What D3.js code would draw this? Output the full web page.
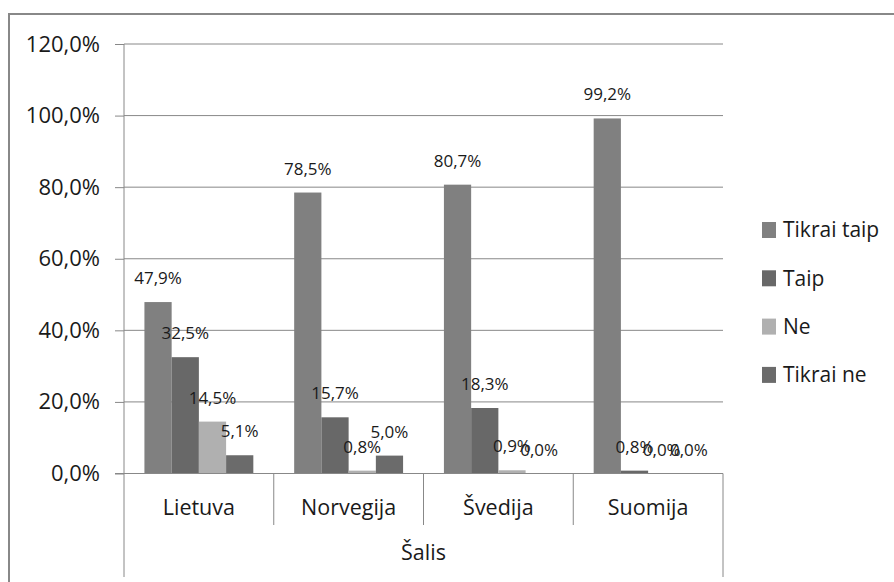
<!DOCTYPE html>
<html>
<head>
<meta charset="utf-8">
<script src="https://cdn.jsdelivr.net/npm/d3@7"></script>
<style>
  body { margin: 0; background: #fff; }
  svg text { font-family: "Open Sans", sans-serif; fill: #1a1a1a; }
</style>
</head>
<body>
<svg id="chart" width="894" height="582"></svg>
<script>
// country groups + answer series
var categories = ["Lietuva", "Norvegija", "Švedija", "Suomija"];
var seriesNames = ["Tikrai taip", "Taip", "Ne", "Tikrai ne"];
var tikraiTaip = [47.9, 78.5, 80.7, 99.2];
var taip       = [32.5, 15.7, 18.3, 0.8];
var ne         = [14.5, 0.8, 0.9, 0.0];
var tikraiNe   = [5.1, 5.0, 0.0, 0.0];
var yTicks = [0, 20, 40, 60, 80, 100, 120];
var axisTitle = "Šalis";

var seriesValues = [tikraiTaip, taip, ne, tikraiNe];
var colors = ["#808080", "#686868", "#b0b0b0", "#6b6b6b"];

var svg = d3.select("#chart");
var lineCol = "#888";

// plot box (note: "top" is reserved on window, so use other names)
var plotL = 124, plotR = 723, plotT = 44, plotB = 473.5, axisBottom = 577;

var y = d3.scaleLinear().domain([0, 120]).range([plotB, plotT]);
var x0 = d3.scaleBand().domain(categories).range([plotL, plotR]).paddingInner(0).paddingOuter(0);
var x1 = d3.scaleBand().domain(seriesNames).range([0, x0.bandwidth()]).paddingInner(0).paddingOuter(0.75);

function pct(v) {
  return d3.format(".1f")(v).replace(".", ",") + "%";
}

// outer chart border (top + left only visible)
svg.append("path")
  .attr("d", "M9,582 L9,14 L894,14")
  .attr("fill", "none")
  .attr("stroke", lineCol)
  .attr("stroke-width", 2);

// gridlines
svg.append("g").selectAll("line")
  .data(yTicks)
  .enter().append("line")
  .attr("x1", plotL).attr("x2", plotR)
  .attr("y1", d => y(d)).attr("y2", d => y(d))
  .attr("stroke", lineCol)
  .attr("stroke-width", 1);

// y axis
var yAxis = d3.axisLeft(y)
  .tickValues(yTicks)
  .tickSize(9)
  .tickSizeOuter(0)
  .tickPadding(15)
  .tickFormat(pct);
var gy = svg.append("g").attr("transform", "translate(" + plotL + ",0)").call(yAxis);
gy.select(".domain").remove();
gy.selectAll(".tick line").attr("stroke", lineCol);
gy.selectAll(".tick text").style("font-size", "22px").style("font-family", "'Open Sans', sans-serif").attr("fill", "#1a1a1a");

// axis line running through both category levels
svg.append("line")
  .attr("x1", plotL).attr("x2", plotL)
  .attr("y1", plotT).attr("y2", axisBottom)
  .attr("stroke", lineCol);
svg.append("line")
  .attr("x1", plotR).attr("x2", plotR)
  .attr("y1", plotB).attr("y2", axisBottom)
  .attr("stroke", lineCol);

// category separators
svg.append("g").selectAll("line")
  .data(categories.slice(1))
  .enter().append("line")
  .attr("x1", d => x0(d)).attr("x2", d => x0(d))
  .attr("y1", plotB).attr("y2", 525)
  .attr("stroke", lineCol);

// bars
var groups = svg.append("g").selectAll("g")
  .data(categories)
  .enter().append("g")
  .attr("transform", d => "translate(" + x0(d) + ",0)");

groups.selectAll("rect")
  .data((c, ci) => seriesNames.map((s, si) => ({s: s, si: si, v: seriesValues[si][ci]})))
  .enter().append("rect")
  .attr("x", d => x1(d.s))
  .attr("width", x1.bandwidth())
  .attr("y", d => y(d.v))
  .attr("height", d => plotB - y(d.v))
  .attr("fill", d => colors[d.si]);

// data labels
groups.selectAll("text.lbl")
  .data((c, ci) => seriesNames.map((s, si) => ({s: s, si: si, v: seriesValues[si][ci]})))
  .enter().append("text")
  .attr("class", "lbl")
  .attr("x", d => x1(d.s) + x1.bandwidth() / 2)
  .attr("y", d => y(d.v) - 18)
  .attr("text-anchor", "middle")
  .style("font-size", "17px")
  .text(d => pct(d.v));

// x axis baseline
svg.append("line")
  .attr("x1", plotL - 9).attr("x2", plotR)
  .attr("y1", plotB).attr("y2", plotB)
  .attr("stroke", lineCol);

// category labels
svg.append("g").selectAll("text")
  .data(categories)
  .enter().append("text")
  .attr("x", d => x0(d) + x0.bandwidth() / 2)
  .attr("y", 507)
  .attr("dy", "0.35em")
  .attr("text-anchor", "middle")
  .style("font-size", "21.5px")
  .text(d => d);

svg.append("text")
  .attr("x", (plotL + plotR) / 2)
  .attr("y", 552)
  .attr("dy", "0.35em")
  .attr("text-anchor", "middle")
  .style("font-size", "21.5px")
  .text(axisTitle);

// legend
var legend = svg.append("g").selectAll("g")
  .data(seriesNames)
  .enter().append("g")
  .attr("transform", (d, i) => "translate(762," + (230 + i * 48.3) + ")");
legend.append("rect")
  .attr("x", 0).attr("y", -8)
  .attr("width", 14).attr("height", 16)
  .attr("fill", (d, i) => colors[i]);
legend.append("text")
  .attr("x", 21).attr("y", 0)
  .attr("dy", "0.35em")
  .style("font-size", "21px")
  .text(d => d);
</script>
</body>
</html>
